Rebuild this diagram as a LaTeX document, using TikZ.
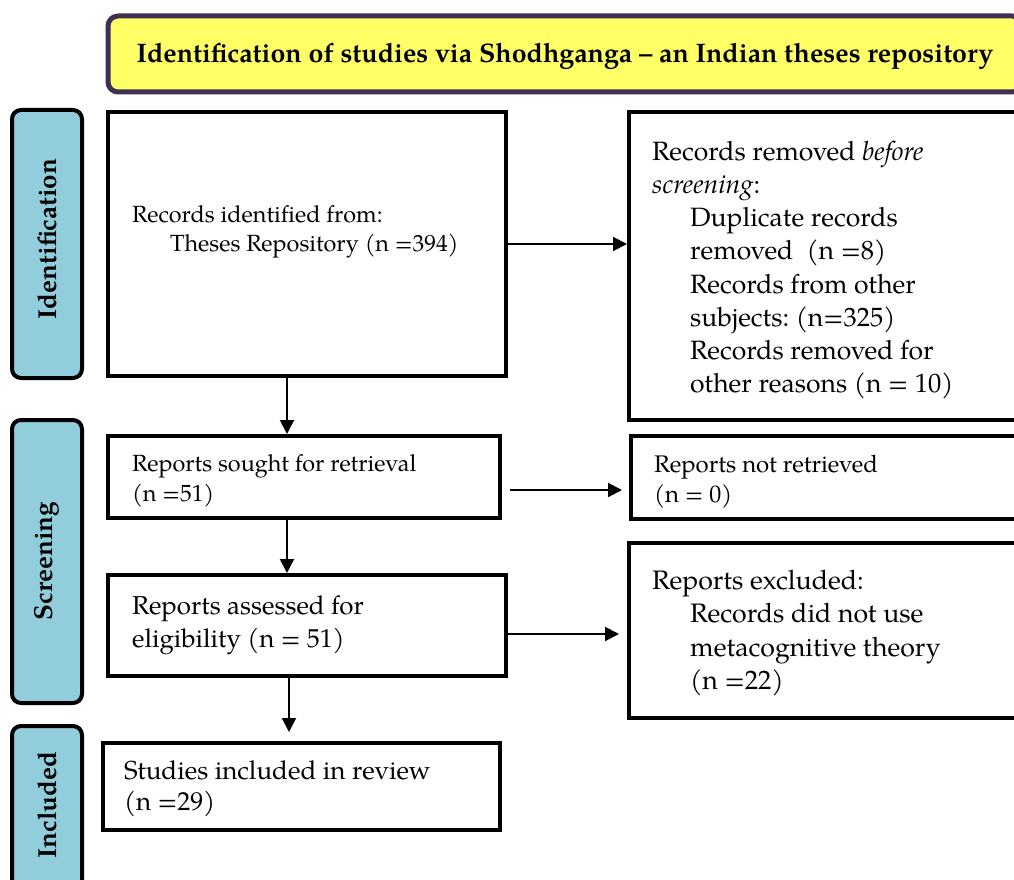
\documentclass[tikz,border=0pt]{standalone}
\usepackage{fontspec}
\setmainfont{TeX Gyre Pagella}
\usetikzlibrary{arrows.meta}
\definecolor{hdrfill}{RGB}{255,255,102}
\definecolor{hdrline}{RGB}{64,49,82}
\definecolor{sidefill}{RGB}{146,205,220}
\frenchspacing
\begin{document}
\begin{tikzpicture}[x=1pt,y=-1pt,
  box/.style={draw=black,line width=4pt,inner sep=0pt},
  side/.style={draw=black,fill=sidefill,line width=4pt,rounded corners=9pt,inner sep=0pt,minimum width=70pt},
  sidetxt/.style={rotate=90,font=\fontsize{26}{30}\selectfont\bfseries},
  txt/.style={anchor=west,align=left,inner sep=0pt},
  arr/.style={line width=2pt,-{Triangle[length=14pt,width=14pt]}}]
\useasboundingbox (0,0) rectangle (1014,880);
\clip (0,0) rectangle (1014,880);
% header
\node[draw=hdrline,fill=hdrfill,line width=5pt,rounded corners=10pt,minimum width=914pt,minimum height=76pt,inner sep=0pt] (hdr) at (565,54) {};
\node[font=\fontsize{26.8}{30}\selectfont\bfseries,inner sep=0pt] (hdrt) at (565,56) {Identification of studies via Shodhganga – an Indian theses repository};
% side labels
\node[side,minimum height=268pt] (sid) at (47,244) {};
\node[sidetxt] (sidt) at (47,239) {Identification};
\node[side,minimum height=283pt] (ssc) at (47,561.5) {};
\node[sidetxt] (ssct) at (47,561) {Screening};
\node[side,minimum height=164pt] (sin) at (47,808) {};
\node[sidetxt] (sint) at (47,805) {Included};
% main boxes
\node[box,minimum width=398pt,minimum height=264pt] (b1) at (307,244) {};
\node[box,minimum width=392pt,minimum height=82pt] (b2) at (304,477) {};
\node[box,minimum width=398pt,minimum height=101pt] (b3) at (307,625.5) {};
\node[box,minimum width=397pt,minimum height=87pt] (b4) at (301.5,786.5) {};
% right boxes
\node[box,minimum width=411pt,minimum height=308pt] (r1) at (834.5,266) {};
\node[box,minimum width=409pt,minimum height=83pt] (r2) at (835.5,477.5) {};
\node[box,minimum width=411pt,minimum height=175pt] (r3) at (834.5,630.5) {};
% texts
\node[txt,font=\fontsize{23.4}{29}\selectfont] (t1) at (132,231.5) {Records identified from:\\\hspace*{38pt}Theses Repository (n =394)};
\node[txt,font=\fontsize{26.5}{33.2}\selectfont] (tr1) at (652,270) {Records removed \textit{before}\\\textit{screening}:\\
\hspace*{38pt}Duplicate records\\\hspace*{38pt}removed\ \ (n =8)\\\hspace*{38pt}Records from other\\\hspace*{38pt}subjects: (n=325)\\
\hspace*{38pt}Records removed for\\\hspace*{38pt}other reasons (n = 10)};
\node[txt,font=\fontsize{23.4}{30}\selectfont] (t2) at (132,481) {Reports sought for retrieval\\(n =51)};
\node[txt,font=\fontsize{24}{30}\selectfont] (tr2) at (654,482) {Reports not retrieved\\(n = 0)};
\node[txt,font=\fontsize{25.9}{33}\selectfont] (t3) at (132,625) {Reports assessed for\\eligibility (n = 51)};
\node[txt,font=\fontsize{26.7}{33.5}\selectfont] (tr3) at (652,633) {Reports excluded:\\\hspace*{38pt}Records did not use\\\hspace*{38pt}metacognitive theory\\\hspace*{38pt}(n =22)};
\node[txt,font=\fontsize{26}{31}\selectfont] (t4) at (124,789) {Studies included in review\\(n =29)};
% arrow anchors
\coordinate (a2s) at ([yshift=-13pt]b2.east);
\coordinate (a3s) at ([yshift=-8.5pt]b3.east);
% arrows
\draw[arr] ([xshift=-20pt]b1.south) -- ([xshift=-20pt]b1.south |- b2.north);
\draw[arr] ([xshift=-17pt]b2.south) -- ([xshift=-17pt]b2.south |- b3.north);
\draw[arr,shorten >=9pt] ([xshift=-18pt]b3.south) -- ([xshift=-18pt]b3.south |- b4.north);
\draw[arr] (b1.east) -- (r1.west |- b1.east);
\draw[arr,shorten <=8pt,shorten >=7pt] (a2s) -- (r2.west |- a2s);
\draw[arr,shorten >=8pt] (a3s) -- (r3.west |- a3s);
\end{tikzpicture}
\end{document}
